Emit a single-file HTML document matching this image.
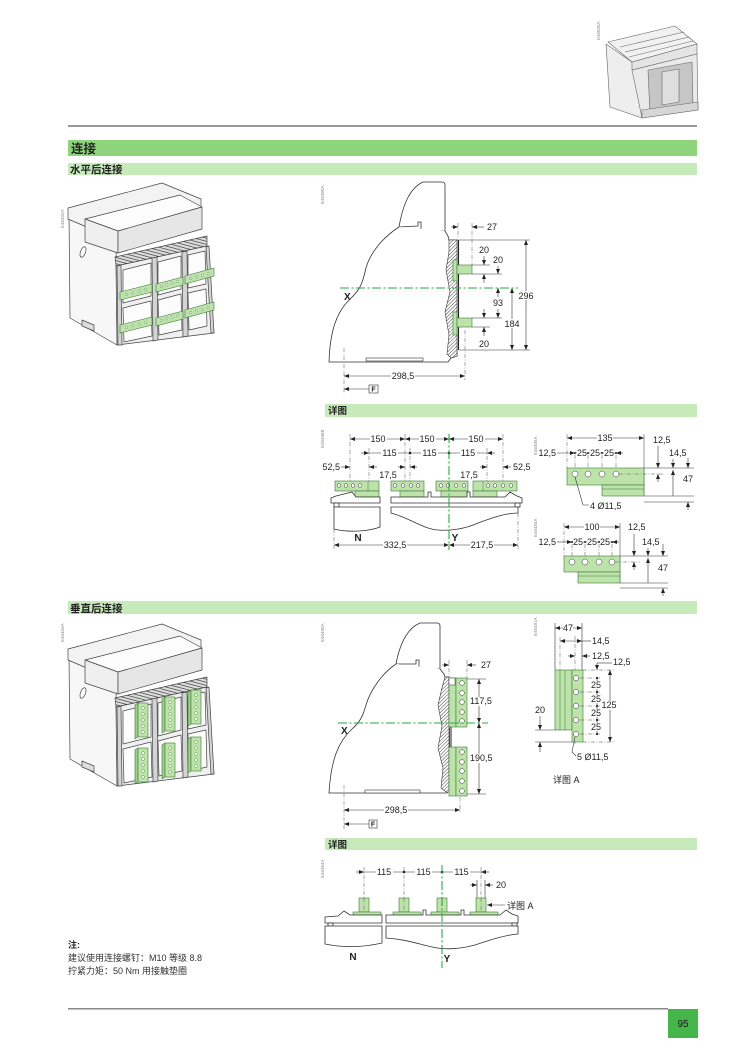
<!DOCTYPE html>
<html><head><meta charset="utf-8">
<style>
html,body{margin:0;padding:0;background:#fff;}
svg{display:block}
text{font-family:"Liberation Sans","Noto Sans CJK SC",sans-serif;font-size:9px;fill:#222}
.b{font-weight:bold}
.m{text-anchor:middle}
.n{text-anchor:end}
.d{stroke:#333;stroke-width:.6;fill:none}
.e{stroke:#555;stroke-width:.5;fill:none;stroke-dasharray:4 1.5 1 1.5}
.o{stroke:#333;stroke-width:.8;fill:#fff}
.g{fill:#bde3ab;stroke:#3a7a35;stroke-width:.6}
.ax{stroke:#2aa845;stroke-width:1.1;fill:none;stroke-dasharray:9 2.5 2 2.5}
.l{font-size:4.5px;fill:#888}
.w{fill:#fff}
.hl{fill:#fff;stroke:#333;stroke-width:.5}
.gh{fill:#fff;stroke:#3a7a35;stroke-width:.4}
</style></head><body>
<svg width="750" height="1056" viewBox="0 0 750 1056" xmlns="http://www.w3.org/2000/svg">
<defs>
<marker id="a" viewBox="0 0 10 8" refX="10" refY="4" markerUnits="userSpaceOnUse" markerWidth="5" markerHeight="4" orient="auto-start-reverse"><path d="M0,0L10,4L0,8z" fill="#222"/></marker>
<pattern id="h" width="2.5" height="2.5" patternUnits="userSpaceOnUse" patternTransform="rotate(45)"><rect width="2.5" height="2.5" fill="#fff"/><line x1="0" y1="0" x2="0" y2="2.5" stroke="#444" stroke-width="1"/></pattern>
<pattern id="gr" width="3" height="3" patternUnits="userSpaceOnUse" patternTransform="rotate(-75)"><rect width="3" height="3" fill="#ddd"/><line x1="0" y1="0" x2="0" y2="3" stroke="#222" stroke-width="1.2"/></pattern>
<g id="dev" stroke="#444" stroke-width=".7" stroke-linejoin="round">
<polygon points="69,215 116,243 117,345 70,318" fill="#f7f7f7"/>
<polygon points="68,208 162,183 201,199 201,213 110,237 68,219" fill="#f3f3f3"/>
<polygon points="85,219 180,195 202,207 118,231" fill="#fcfcfc"/>
<polygon points="85,219 118,231 118,253 85,242" fill="#efefef"/>
<polygon points="118,231 202,207 202,229 118,253" fill="#e6e6e6"/>
<polygon points="115,257 207,236 207,246 116,266" fill="url(#gr)"/>
<polygon points="116,266 207,246 214,333 117,345" fill="#f0f0f0"/>
<polygon points="123,270 151,263 151,296 123,303" fill="#fcfcfc"/>
<polygon points="158,262 181,256 181,289 158,295" fill="#fcfcfc"/>
<polygon points="188,255 205,251 206,284 188,288" fill="#fcfcfc"/>
<polygon points="123,308 151,301 152,336 124,342" fill="#fcfcfc"/>
<polygon points="158,300 181,294 182,330 159,335" fill="#fcfcfc"/>
<polygon points="188,293 206,289 207,326 189,330" fill="#fcfcfc"/>
<polygon points="117,266 121,265 122,345 118,345" fill="#d4d4d4"/>
<polygon points="152,258 157,257 158,340 153,341" fill="#d4d4d4"/>
<polygon points="182,252 187,251 188,336 183,337" fill="#d4d4d4"/>
<polygon points="206,247 209,246 214,333 211,333" fill="#d4d4d4"/>
<ellipse cx="83" cy="252" rx="2.5" ry="5.5" transform="rotate(20 83 252)" fill="#fff"/>
<polygon points="82,320 94,325 94,331 82,326" fill="#ddd"/>
</g>
</defs>

<!-- HEADER DEVICE -->
<g stroke="#666" stroke-width=".6" stroke-linejoin="round">
<polygon points="606,44 632,62 642,118 610,107" fill="#eeeeee"/>
<polygon points="608,42 675,26 697,44 632,62" fill="#f1f1f1"/>
<polygon points="632,62 697,44 697,54 632,70" fill="#e4e4e4"/>
<polygon points="632,70 697,54 698,110 642,118" fill="#e9e9e9"/>
<polygon points="648,70 692,62 693,108 650,114" fill="#c6c6c6"/>
<polygon points="662,72 679,69 679,102 662,105" fill="#dedede"/>
<polygon points="642,110 698,102 698,110 642,118" fill="#d6d6d6"/>
<line x1="620" y1="47" x2="684" y2="32"/><line x1="625" y1="52" x2="689" y2="37"/><line x1="629" y1="57" x2="693" y2="41"/>
</g>
<text class="l" transform="translate(600,40) rotate(-90)">E46035A</text>

<rect x="68" y="125" width="629" height="2" fill="#9a9a9a"/>
<rect x="68" y="140" width="629" height="16" fill="#8ed47d"/>
<text x="71" y="153" class="b" style="font-size:12.5px">连接</text>
<rect x="68" y="163" width="629" height="12" fill="#c7eaba"/>
<text x="70" y="173" class="b" style="font-size:10.5px">水平后连接</text>

<!-- SECTION 1 DEVICE -->
<text class="l" transform="translate(64,228) rotate(-90)">E46402A</text>
<use href="#dev"/>
<g class="g">
<polygon points="120,292 152,284 152,292 120,300"/>
<polygon points="156,284 183,277 183,285 156,292"/>
<polygon points="185,276 214,268 214,276 185,284"/>
<polygon points="120,325 152,317 152,325 120,333"/>
<polygon points="156,318 183,311 183,319 156,326"/>
<polygon points="185,310 214,302 214,310 185,318"/>
</g>
<g class="gh">
<circle cx="126.4" cy="294.4" r="1.2"/><circle cx="132.8" cy="292.8" r="1.2"/><circle cx="139.2" cy="291.2" r="1.2"/><circle cx="145.6" cy="289.6" r="1.2"/>
<circle cx="161.4" cy="286.4" r="1.2"/><circle cx="166.8" cy="284.8" r="1.2"/><circle cx="172.2" cy="283.2" r="1.2"/><circle cx="177.6" cy="281.6" r="1.2"/>
<circle cx="190.8" cy="278.4" r="1.2"/><circle cx="196.6" cy="276.8" r="1.2"/><circle cx="202.4" cy="275.2" r="1.2"/><circle cx="208.2" cy="273.6" r="1.2"/>
<circle cx="126.4" cy="327.4" r="1.2"/><circle cx="132.8" cy="325.8" r="1.2"/><circle cx="139.2" cy="324.2" r="1.2"/><circle cx="145.6" cy="322.6" r="1.2"/>
<circle cx="161.4" cy="320.4" r="1.2"/><circle cx="166.8" cy="318.8" r="1.2"/><circle cx="172.2" cy="317.2" r="1.2"/><circle cx="177.6" cy="315.6" r="1.2"/>
<circle cx="190.8" cy="312.4" r="1.2"/><circle cx="196.6" cy="310.8" r="1.2"/><circle cx="202.4" cy="309.2" r="1.2"/><circle cx="208.2" cy="307.6" r="1.2"/>
</g>

<!-- SECTION 1 SIDE VIEW -->
<text class="l" transform="translate(324,204) rotate(-90)">E46380A</text>
<path class="o" d="M399,227 C403,204 410,188 423,182 L442,182 Q445,182 445,185 L445,231 L421,231 L421,222 L418,222 L418,226 Z"/>
<path class="o" d="M399,227 C385,236 369,252 365,272 C362,285 359,291 349,300 C336,313 330,332 329,362 L448,362 L451,358 L457,356 L457,240 L449,240 L448,236 L445,231" />
<path d="M449,240 L457,240 L457,356 L451,358 L447,354 L449,335 L445,312 L450,292 L446,270 L449,252Z" fill="url(#h)" stroke="#333" stroke-width=".6"/>
<rect x="366" y="358" width="57" height="3" fill="#fff" stroke="#333" stroke-width=".6"/>
<line x1="458.5" y1="240" x2="458.5" y2="350" stroke="#222" stroke-width="1.1"/>
<line class="d" x1="459" y1="240" x2="530" y2="240"/>
<line class="d" x1="459" y1="350" x2="530" y2="350"/>
<rect class="g" x="453" y="260" width="4" height="21"/>
<rect class="g" x="457" y="265" width="15" height="9"/>
<rect class="g" x="453" y="312" width="4" height="23"/>
<rect class="g" x="457" y="318" width="15" height="9"/>
<line class="d" x1="472" y1="265" x2="490" y2="265"/>
<line class="d" x1="472" y1="274" x2="502" y2="274"/>
<line class="d" x1="472" y1="318" x2="502" y2="318"/>
<line class="d" x1="472" y1="327" x2="490" y2="327"/>
<line class="e" x1="458" y1="223" x2="458" y2="240"/>
<line class="e" x1="472" y1="223" x2="472" y2="265"/>
<line class="d" x1="451" y1="227" x2="458" y2="227" marker-end="url(#a)"/>
<line class="d" x1="484" y1="227" x2="472" y2="227" marker-end="url(#a)"/>
<text x="487" y="230">27</text>
<line class="d" x1="484" y1="256" x2="484" y2="265" marker-end="url(#a)"/>
<line class="d" x1="484" y1="283" x2="484" y2="274" marker-end="url(#a)"/>
<text class="m" x="484" y="253">20</text>
<text class="m" x="498" y="263">20</text>
<line class="d" x1="498" y1="266" x2="498" y2="274" marker-end="url(#a)"/>
<line class="d" x1="498" y1="297" x2="498" y2="288" marker-end="url(#a)"/>
<text class="m" x="498" y="306">93</text>
<line class="d" x1="498" y1="309" x2="498" y2="318" marker-end="url(#a)"/>
<line class="d" x1="484" y1="309" x2="484" y2="318" marker-end="url(#a)"/>
<line class="d" x1="484" y1="336" x2="484" y2="327" marker-end="url(#a)"/>
<text class="m" x="484" y="347">20</text>
<line class="d" x1="512" y1="288" x2="512" y2="350" marker-start="url(#a)" marker-end="url(#a)"/>
<rect class="w" x="504" y="319" width="16" height="9"/>
<text class="m" x="512" y="327">184</text>
<line class="d" x1="526" y1="240" x2="526" y2="350" marker-start="url(#a)" marker-end="url(#a)"/>
<rect class="w" x="518" y="291" width="16" height="9"/>
<text class="m" x="526" y="299">296</text>
<line class="ax" x1="340" y1="288" x2="518" y2="288"/>
<text class="b" x="344" y="300" style="font-size:10px">X</text>
<line class="e" x1="344" y1="348" x2="344" y2="394"/>
<line class="e" x1="465" y1="330" x2="465" y2="380"/>
<line class="d" x1="344" y1="376" x2="465" y2="376" marker-start="url(#a)" marker-end="url(#a)"/>
<rect class="w" x="391" y="372" width="24" height="9"/>
<text class="m" x="403" y="379">298,5</text>
<line class="d" x1="369" y1="389" x2="344" y2="389" marker-end="url(#a)"/>
<rect x="369" y="385" width="9" height="8" fill="#fff" stroke="#333" stroke-width=".6"/>
<text class="m b" x="373.5" y="391.5" style="font-size:7px">F</text>

<!-- DETAIL 1 -->
<rect x="325" y="404" width="372" height="13" fill="#c7eaba"/>
<text class="b" x="328" y="414" style="font-size:9.5px">详图</text>
<text class="l" transform="translate(324,448) rotate(-90)">E46406B</text>
<line class="e" x1="350" y1="434" x2="350" y2="481"/>
<line class="e" x1="405" y1="434" x2="405" y2="481"/>
<line class="e" x1="503" y1="434" x2="503" y2="481"/>
<line class="e" x1="369" y1="448" x2="369" y2="482"/>
<line class="e" x1="410" y1="448" x2="410" y2="482"/>
<line class="e" x1="487" y1="448" x2="487" y2="482"/>
<line class="d" x1="350" y1="439" x2="405" y2="439" marker-start="url(#a)" marker-end="url(#a)"/>
<line class="d" x1="405" y1="439" x2="449" y2="439" marker-start="url(#a)" marker-end="url(#a)"/>
<line class="d" x1="449" y1="439" x2="503" y2="439" marker-start="url(#a)" marker-end="url(#a)"/>
<rect class="w" x="370" y="435" width="17" height="9"/><text class="m" x="378" y="442">150</text>
<rect class="w" x="419" y="435" width="17" height="9"/><text class="m" x="427" y="442">150</text>
<rect class="w" x="468" y="435" width="17" height="9"/><text class="m" x="476" y="442">150</text>
<line class="d" x1="361" y1="453" x2="369" y2="453" marker-end="url(#a)"/>
<line class="d" x1="369" y1="453" x2="487" y2="453"/>
<line class="d" x1="495" y1="453" x2="487" y2="453" marker-end="url(#a)"/>
<rect class="w" x="381" y="449" width="17" height="9"/><text class="m" x="389.5" y="456">115</text>
<rect class="w" x="421" y="449" width="17" height="9"/><text class="m" x="429.5" y="456">115</text>
<rect class="w" x="460" y="449" width="17" height="9"/><text class="m" x="468" y="456">115</text>
<circle cx="410" cy="453" r="1.3" fill="#222"/><circle cx="449" cy="453" r="1.3" fill="#222"/>
<text class="n" x="340" y="470">52,5</text>
<line class="d" x1="341" y1="467" x2="350" y2="467" marker-end="url(#a)"/>
<line class="d" x1="377" y1="467" x2="369" y2="467" marker-end="url(#a)"/>
<line class="d" x1="480" y1="467" x2="487" y2="467" marker-end="url(#a)"/>
<line class="d" x1="511" y1="467" x2="503" y2="467" marker-end="url(#a)"/>
<text x="513" y="470">52,5</text>
<line class="d" x1="398" y1="467" x2="405" y2="467" marker-end="url(#a)"/>
<line class="d" x1="417" y1="467" x2="410" y2="467" marker-end="url(#a)"/>
<text class="m" x="388" y="478">17,5</text>
<text class="m" x="469" y="478">17,5</text>
<rect class="g" x="335" y="481" width="44" height="10"/><rect class="g" x="355" y="491" width="24" height="6"/>
<line x1="368" y1="481" x2="368" y2="491" stroke="#3a7a35" stroke-width=".5"/>
<rect class="g" x="391" y="481" width="33" height="10"/><rect class="g" x="400" y="491" width="24" height="6"/>
<rect class="g" x="436" y="481" width="32" height="10"/><rect class="g" x="441" y="491" width="27" height="6"/>
<rect class="g" x="473" y="481" width="44" height="10"/><rect class="g" x="473" y="491" width="24" height="6"/>
<line x1="483" y1="481" x2="483" y2="491" stroke="#3a7a35" stroke-width=".5"/>
<g class="hl">
<circle cx="339" cy="485.5" r="1.8"/><circle cx="346" cy="485.5" r="1.8"/><circle cx="353" cy="485.5" r="1.8"/><circle cx="360" cy="485.5" r="1.8"/>
<circle cx="395" cy="485.5" r="1.8"/><circle cx="403" cy="485.5" r="1.8"/><circle cx="411" cy="485.5" r="1.8"/><circle cx="418" cy="485.5" r="1.8"/>
<circle cx="441" cy="485.5" r="1.8"/><circle cx="448" cy="485.5" r="1.8"/><circle cx="456" cy="485.5" r="1.8"/><circle cx="464" cy="485.5" r="1.8"/>
<circle cx="488" cy="485.5" r="1.8"/><circle cx="495" cy="485.5" r="1.8"/><circle cx="503" cy="485.5" r="1.8"/><circle cx="511" cy="485.5" r="1.8"/>
</g>
<path class="o" d="M331,503 L331,498 L336,496 L352,492 L356,497 L380,497 L380,503 Z"/>
<path class="o" d="M391,497 L428,497 L428,492 L431,492 L431,497 L467,497 L467,492 L470,492 L470,497 L505,497 L510,492 L517,496 L522,498 L522,503 L391,503 Z"/>
<rect class="o" x="334" y="503" width="5" height="4"/><rect class="o" x="515" y="503" width="5" height="4"/>
<path class="o" d="M334,507 L380,507 L380,527 C370,531 350,533 334,529 Z"/>
<path class="o" d="M391,507 L518,507 L518,513 C505,513 492,518 478,523 C465,529 450,531 438,530 C423,529 410,518 391,513 Z"/>
<text class="b m" x="358" y="541" style="font-size:10px">N</text>
<text class="b m" x="455" y="541" style="font-size:10px">Y</text>
<line class="e" x1="334" y1="529" x2="334" y2="549"/>
<line class="e" x1="518" y1="513" x2="518" y2="549"/>
<line class="d" x1="334" y1="545" x2="449" y2="545" marker-start="url(#a)" marker-end="url(#a)"/>
<line class="d" x1="449" y1="545" x2="518" y2="545" marker-start="url(#a)" marker-end="url(#a)"/>
<rect class="w" x="383" y="541" width="24" height="9"/><text class="m" x="395" y="548">332,5</text>
<rect class="w" x="470" y="541" width="24" height="9"/><text class="m" x="482" y="548">217,5</text>
<line class="ax" x1="449" y1="434" x2="449" y2="550"/>

<!-- RIGHT SMALL DRAWINGS -->
<text class="l" transform="translate(537,455) rotate(-90)">E46405A</text>
<line class="e" x1="567" y1="434" x2="567" y2="468"/>
<line x1="644" y1="434" x2="644" y2="496" stroke="#333" stroke-width=".5"/>
<line class="d" x1="567" y1="438" x2="644" y2="438" marker-start="url(#a)" marker-end="url(#a)"/>
<rect class="w" x="597" y="434" width="16" height="9"/><text class="m" x="605" y="441">135</text>
<text class="n" x="556" y="456">12,5</text>
<line class="d" x1="557" y1="453" x2="575" y2="453" marker-end="url(#a)"/>
<line class="d" x1="575" y1="453" x2="616" y2="453"/>
<line class="d" x1="623" y1="453" x2="616" y2="453" marker-end="url(#a)"/>
<rect class="w" x="577" y="449" width="10" height="8"/><text class="m" x="582" y="456">25</text>
<rect class="w" x="590" y="449" width="10" height="8"/><text class="m" x="595" y="456">25</text>
<rect class="w" x="604" y="449" width="10" height="8"/><text class="m" x="609" y="456">25</text>
<g fill="#222"><circle cx="575" cy="453" r="1"/><circle cx="588" cy="453" r="1"/><circle cx="602" cy="453" r="1"/><circle cx="616" cy="453" r="1"/></g>
<line class="e" x1="575" y1="455" x2="575" y2="468"/><line class="e" x1="588" y1="455" x2="588" y2="468"/><line class="e" x1="602" y1="455" x2="602" y2="468"/><line class="e" x1="616" y1="455" x2="616" y2="468"/>
<rect class="g" x="567" y="468" width="77" height="17"/>
<rect class="g" x="602" y="485" width="42" height="11"/>
<line x1="602" y1="489" x2="644" y2="489" stroke="#3a7a35" stroke-width=".5"/>
<g class="hl"><circle cx="575" cy="474" r="3"/><circle cx="588" cy="474" r="3"/><circle cx="602" cy="474" r="3"/><circle cx="616" cy="474" r="3"/></g>
<line class="e" x1="619" y1="474" x2="664" y2="474"/>
<line class="d" x1="644" y1="468" x2="694" y2="468"/>
<line class="d" x1="644" y1="496" x2="694" y2="496"/>
<line class="d" x1="644" y1="502" x2="694" y2="502"/>
<text x="653" y="443">12,5</text>
<line class="d" x1="658" y1="446" x2="658" y2="468" marker-end="url(#a)"/>
<line class="d" x1="658" y1="482" x2="658" y2="474" marker-end="url(#a)"/>
<text x="669" y="456">14,5</text>
<line class="d" x1="673" y1="459" x2="673" y2="468" marker-end="url(#a)"/>
<line class="d" x1="673" y1="496" x2="673" y2="470" marker-end="url(#a)"/>
<line class="d" x1="688" y1="458" x2="688" y2="468" marker-end="url(#a)"/>
<text class="m" x="688" y="482">47</text>
<line class="d" x1="688" y1="510" x2="688" y2="502" marker-end="url(#a)"/>
<path class="d" d="M575,477 L583,505 L589,505"/>
<text x="590" y="509">4 Ø11,5</text>

<text class="l" transform="translate(537,537) rotate(-90)">E46455A</text>
<line class="e" x1="564" y1="523" x2="564" y2="556"/>
<line x1="620" y1="523" x2="620" y2="583" stroke="#333" stroke-width=".5"/>
<line class="d" x1="564" y1="527" x2="620" y2="527" marker-start="url(#a)" marker-end="url(#a)"/>
<rect class="w" x="584" y="523" width="16" height="9"/><text class="m" x="592" y="530">100</text>
<text class="n" x="556" y="545">12,5</text>
<line class="d" x1="557" y1="542" x2="572" y2="542" marker-end="url(#a)"/>
<line class="d" x1="572" y1="542" x2="612" y2="542"/>
<line class="d" x1="619" y1="542" x2="612" y2="542" marker-end="url(#a)"/>
<rect class="w" x="573" y="538" width="10" height="8"/><text class="m" x="578" y="545">25</text>
<rect class="w" x="587" y="538" width="10" height="8"/><text class="m" x="592" y="545">25</text>
<rect class="w" x="600" y="538" width="10" height="8"/><text class="m" x="605" y="545">25</text>
<g fill="#222"><circle cx="572" cy="542" r="1"/><circle cx="585" cy="542" r="1"/><circle cx="599" cy="542" r="1"/><circle cx="612" cy="542" r="1"/></g>
<line class="e" x1="572" y1="544" x2="572" y2="556"/><line class="e" x1="585" y1="544" x2="585" y2="556"/><line class="e" x1="599" y1="544" x2="599" y2="556"/><line class="e" x1="612" y1="544" x2="612" y2="556"/>
<rect class="g" x="564" y="556" width="56" height="16"/>
<rect class="g" x="578" y="572" width="42" height="11"/>
<line x1="578" y1="576" x2="620" y2="576" stroke="#3a7a35" stroke-width=".5"/>
<g class="hl"><circle cx="572" cy="562" r="3"/><circle cx="585" cy="562" r="3"/><circle cx="599" cy="562" r="3"/><circle cx="612" cy="562" r="3"/></g>
<line class="e" x1="615" y1="562" x2="640" y2="562"/>
<line class="d" x1="620" y1="556" x2="668" y2="556"/>
<line class="d" x1="620" y1="583" x2="668" y2="583"/>
<line class="d" x1="620" y1="588" x2="668" y2="588"/>
<text x="628" y="530">12,5</text>
<line class="d" x1="634" y1="534" x2="634" y2="556" marker-end="url(#a)"/>
<line class="d" x1="634" y1="570" x2="634" y2="562" marker-end="url(#a)"/>
<text x="642" y="545">14,5</text>
<line class="d" x1="648" y1="548" x2="648" y2="556" marker-end="url(#a)"/>
<line class="d" x1="648" y1="583" x2="648" y2="558" marker-end="url(#a)"/>
<line class="d" x1="663" y1="544" x2="663" y2="556" marker-end="url(#a)"/>
<text class="m" x="663" y="571">47</text>
<line class="d" x1="663" y1="596" x2="663" y2="588" marker-end="url(#a)"/>

<!-- SECTION 2 -->
<rect x="68" y="601" width="629" height="13" fill="#c7eaba"/>
<text x="70" y="612" class="b" style="font-size:10.5px">垂直后连接</text>

<text class="l" transform="translate(64,642) rotate(-90)">E46403A</text>
<use href="#dev" transform="translate(0,441)"/>
<g stroke="#3a7a35" stroke-width=".6">
<polygon points="135,705 138,703 138,737 135,739" fill="#9fd08c"/><rect x="138" y="703" width="10" height="34" fill="#bde3ab"/>
<polygon points="162,699 165,697 165,731 162,733" fill="#9fd08c"/><rect x="165" y="697" width="10" height="34" fill="#bde3ab"/>
<polygon points="188,692 191,690 191,724 188,726" fill="#9fd08c"/><rect x="191" y="690" width="10" height="34" fill="#bde3ab"/>
<polygon points="135,750 138,748 138,782 135,784" fill="#9fd08c"/><rect x="138" y="748" width="10" height="34" fill="#bde3ab"/>
<polygon points="162,745 165,743 165,777 162,779" fill="#9fd08c"/><rect x="165" y="743" width="10" height="34" fill="#bde3ab"/>
<polygon points="188,739 191,737 191,771 188,773" fill="#9fd08c"/><rect x="191" y="737" width="10" height="34" fill="#bde3ab"/>
</g>
<g class="gh">
<circle cx="143" cy="708" r="1.4"/><circle cx="143" cy="714" r="1.4"/><circle cx="143" cy="720" r="1.4"/><circle cx="143" cy="726" r="1.4"/><circle cx="143" cy="732" r="1.4"/>
<circle cx="170" cy="702" r="1.4"/><circle cx="170" cy="708" r="1.4"/><circle cx="170" cy="714" r="1.4"/><circle cx="170" cy="720" r="1.4"/><circle cx="170" cy="726" r="1.4"/>
<circle cx="196" cy="695" r="1.4"/><circle cx="196" cy="701" r="1.4"/><circle cx="196" cy="707" r="1.4"/><circle cx="196" cy="713" r="1.4"/><circle cx="196" cy="719" r="1.4"/>
<circle cx="143" cy="753" r="1.4"/><circle cx="143" cy="759" r="1.4"/><circle cx="143" cy="765" r="1.4"/><circle cx="143" cy="771" r="1.4"/><circle cx="143" cy="777" r="1.4"/>
<circle cx="170" cy="748" r="1.4"/><circle cx="170" cy="754" r="1.4"/><circle cx="170" cy="760" r="1.4"/><circle cx="170" cy="766" r="1.4"/><circle cx="170" cy="772" r="1.4"/>
<circle cx="196" cy="742" r="1.4"/><circle cx="196" cy="748" r="1.4"/><circle cx="196" cy="754" r="1.4"/><circle cx="196" cy="760" r="1.4"/><circle cx="196" cy="766" r="1.4"/>
</g>

<!-- SECTION 2 SIDE VIEW -->
<text class="l" transform="translate(324,642) rotate(-90)">E46490A</text>
<path class="o" d="M396,664 C400,643 408,628 420,623 L437,623 Q440,623 440,626 L440,669 L419,669 L419,660 L416,660 L416,664 Z"/>
<path class="o" d="M396,664 C384,672 371,688 366,705 C363,716 360,722 352,729 C338,742 331,760 329,793 L447,793 L450,789 L449,677 L445,677 L444,674 L440,669"/>
<path d="M445,677 L449,677 L449,792 L446,792 L441,788 L443,768 L438,748 L442,726 L438,705 L442,688Z" fill="url(#h)" stroke="#333" stroke-width=".6"/>
<rect x="365" y="790" width="55" height="3" fill="#fff" stroke="#333" stroke-width=".6"/>
<line x1="451" y1="727" x2="451" y2="747" stroke="#222" stroke-width="1"/>
<rect class="g" x="449" y="678" width="7" height="49"/>
<rect x="449" y="678" width="6" height="7" fill="#fff" stroke="#333" stroke-width=".5"/>
<rect class="g" x="456" y="678" width="11" height="49"/>
<rect class="g" x="449" y="747" width="7" height="49"/>
<rect class="g" x="456" y="747" width="11" height="49"/>
<g class="hl">
<circle cx="462" cy="683" r="2.4"/><circle cx="462" cy="693" r="2.4"/><circle cx="462" cy="702" r="2.4"/><circle cx="462" cy="712" r="2.4"/><circle cx="462" cy="721" r="2.4"/>
<circle cx="462" cy="752" r="2.4"/><circle cx="462" cy="762" r="2.4"/><circle cx="462" cy="771" r="2.4"/><circle cx="462" cy="781" r="2.4"/><circle cx="462" cy="791" r="2.4"/>
</g>
<line class="e" x1="449" y1="660" x2="449" y2="678"/>
<line class="e" x1="467" y1="660" x2="467" y2="678"/>
<line class="d" x1="442" y1="665" x2="449" y2="665" marker-end="url(#a)"/>
<line class="d" x1="476" y1="665" x2="467" y2="665" marker-end="url(#a)"/>
<text x="481" y="668">27</text>
<line class="d" x1="467" y1="679" x2="486" y2="679"/>
<line class="d" x1="467" y1="794" x2="486" y2="794"/>
<line class="d" x1="479" y1="679" x2="479" y2="723" marker-start="url(#a)" marker-end="url(#a)"/>
<line class="d" x1="479" y1="723" x2="479" y2="794" marker-start="url(#a)" marker-end="url(#a)"/>
<rect class="w" x="469" y="697" width="24" height="9"/><text x="470" y="704">117,5</text>
<rect class="w" x="469" y="754" width="24" height="9"/><text x="470" y="761">190,5</text>
<line class="ax" x1="338" y1="723" x2="488" y2="723"/>
<text class="b" x="341" y="734" style="font-size:10px">X</text>
<line class="e" x1="344" y1="785" x2="344" y2="829"/>
<line class="e" x1="460" y1="797" x2="460" y2="813"/>
<line class="d" x1="344" y1="810" x2="460" y2="810" marker-start="url(#a)" marker-end="url(#a)"/>
<rect class="w" x="384" y="806" width="24" height="9"/>
<text class="m" x="396" y="813">298,5</text>
<line class="d" x1="369" y1="824" x2="344" y2="824" marker-end="url(#a)"/>
<rect x="369" y="820" width="8" height="8" fill="#fff" stroke="#333" stroke-width=".6"/>
<text class="m b" x="373" y="826.5" style="font-size:7px">F</text>

<!-- DETAIL A -->
<text class="l" transform="translate(537,636) rotate(-90)">E46491A</text>
<line class="d" x1="555" y1="623" x2="555" y2="670"/>
<line class="d" x1="582" y1="623" x2="582" y2="670"/>
<line class="e" x1="560" y1="637" x2="560" y2="670"/>
<line class="d" x1="555" y1="628" x2="582" y2="628" marker-start="url(#a)" marker-end="url(#a)"/>
<rect class="w" x="563" y="624" width="10" height="8"/><text class="m" x="568" y="631">47</text>
<line class="d" x1="560" y1="641" x2="582" y2="641" marker-start="url(#a)" marker-end="url(#a)"/>
<line class="d" x1="582" y1="641" x2="591" y2="641"/>
<text x="592" y="644">14,5</text>
<line class="e" x1="575" y1="636" x2="575" y2="745"/>
<line class="d" x1="568" y1="656" x2="575" y2="656" marker-end="url(#a)"/>
<line class="d" x1="590" y1="656" x2="582" y2="656" marker-end="url(#a)"/>
<text x="592" y="659">12,5</text>
<path class="d" d="M612,663 L597,663"/>
<line class="d" x1="597" y1="663" x2="597" y2="670" marker-end="url(#a)"/>
<text x="613" y="665">12,5</text>
<rect class="g" x="555" y="670" width="17" height="60"/>
<line x1="560" y1="670" x2="560" y2="730" stroke="#3a7a35" stroke-width=".5"/>
<line x1="565" y1="670" x2="565" y2="730" stroke="#3a7a35" stroke-width=".5"/>
<rect class="g" x="572" y="670" width="11" height="72"/>
<g class="hl"><circle cx="576" cy="678" r="2.6"/><circle cx="576" cy="692" r="2.6"/><circle cx="576" cy="706" r="2.6"/><circle cx="576" cy="720" r="2.6"/><circle cx="576" cy="734" r="2.6"/></g>
<g class="e"><line x1="580" y1="678" x2="600" y2="678"/><line x1="580" y1="692" x2="600" y2="692"/><line x1="580" y1="706" x2="600" y2="706"/><line x1="580" y1="720" x2="600" y2="720"/><line x1="580" y1="734" x2="600" y2="734"/></g>
<line class="d" x1="597" y1="678" x2="597" y2="734"/>
<g fill="#222"><circle cx="597" cy="678" r="1.1"/><circle cx="597" cy="692" r="1.1"/><circle cx="597" cy="706" r="1.1"/><circle cx="597" cy="720" r="1.1"/><circle cx="597" cy="734" r="1.1"/></g>
<rect class="w" x="591" y="681" width="11" height="8"/><text class="m" x="596" y="688">25</text>
<rect class="w" x="591" y="695" width="11" height="8"/><text class="m" x="596" y="702">25</text>
<rect class="w" x="591" y="709" width="11" height="8"/><text class="m" x="596" y="716">25</text>
<rect class="w" x="591" y="723" width="11" height="8"/><text class="m" x="596" y="730">25</text>
<line class="e" x1="583" y1="670" x2="615" y2="670"/>
<line class="e" x1="583" y1="742" x2="615" y2="742"/>
<line class="d" x1="610" y1="670" x2="610" y2="742" marker-start="url(#a)" marker-end="url(#a)"/>
<rect class="w" x="601" y="701" width="16" height="9"/><text class="m" x="609" y="708">125</text>
<line class="d" x1="535" y1="730" x2="555" y2="730"/>
<line class="d" x1="535" y1="742" x2="572" y2="742"/>
<text class="m" x="540" y="713">20</text>
<line class="d" x1="540" y1="716" x2="540" y2="730" marker-end="url(#a)"/>
<line class="d" x1="540" y1="752" x2="540" y2="742" marker-end="url(#a)"/>
<path class="d" d="M575,737 L572,752 L576,756"/>
<text x="577" y="760">5 Ø11,5</text>
<text x="553" y="783">详图 A</text>

<!-- DETAIL 2 -->
<rect x="325" y="838" width="372" height="12" fill="#c7eaba"/>
<text class="b" x="328" y="848" style="font-size:9.5px">详图</text>
<text class="l" transform="translate(324,878) rotate(-90)">E46364A</text>
<line class="e" x1="364" y1="867" x2="364" y2="898"/>
<line class="e" x1="404" y1="867" x2="404" y2="898"/>
<line class="e" x1="481" y1="867" x2="481" y2="898"/>
<line class="d" x1="356" y1="872" x2="364" y2="872" marker-end="url(#a)"/>
<line class="d" x1="364" y1="872" x2="481" y2="872"/>
<line class="d" x1="489" y1="872" x2="481" y2="872" marker-end="url(#a)"/>
<rect class="w" x="376" y="868" width="17" height="9"/><text class="m" x="384" y="875">115</text>
<rect class="w" x="415" y="868" width="17" height="9"/><text class="m" x="423.5" y="875">115</text>
<rect class="w" x="453" y="868" width="17" height="9"/><text class="m" x="461.5" y="875">115</text>
<circle cx="404" cy="872" r="1.3" fill="#222"/><circle cx="442" cy="872" r="1.3" fill="#222"/>
<line class="d" x1="477" y1="880" x2="477" y2="898"/>
<line class="d" x1="485" y1="880" x2="485" y2="898"/>
<line class="d" x1="470" y1="885" x2="477" y2="885" marker-end="url(#a)"/>
<line class="d" x1="493" y1="885" x2="485" y2="885" marker-end="url(#a)"/>
<text x="496" y="888">20</text>
<g>
<rect class="g" x="359" y="898" width="10" height="14"/><rect class="g" x="353" y="912" width="28" height="3"/>
<rect class="g" x="399" y="898" width="10" height="14"/><rect class="g" x="393" y="912" width="28" height="3"/>
<rect class="g" x="437" y="898" width="10" height="14"/><rect class="g" x="431" y="912" width="28" height="3"/>
<rect class="g" x="476" y="898" width="10" height="14"/><rect class="g" x="470" y="912" width="28" height="3"/>
</g>
<g class="e"><line x1="364" y1="898" x2="364" y2="912"/><line x1="404" y1="898" x2="404" y2="912"/><line x1="481" y1="898" x2="481" y2="912"/></g>
<line class="d" x1="505" y1="905" x2="487" y2="905" marker-end="url(#a)"/>
<text x="507" y="909">详图 A</text>
<path class="o" d="M325,923 L325,917 L338,916 L344,911 L350,915 L382,915 L382,923 Z"/>
<path class="o" d="M386,915 L423,915 L423,910 L426,910 L426,915 L461,915 L461,910 L464,910 L464,915 L500,915 L506,910 L512,914 L518,916 L518,923 L386,923 Z"/>
<rect class="o" x="328" y="923" width="5" height="3"/><rect class="o" x="512" y="923" width="5" height="3"/>
<path class="o" d="M325,926 L382,926 L382,943 C365,947 345,948 325,944 Z"/>
<path class="o" d="M386,926 L518,926 L518,934 C505,935 490,940 475,945 C460,949 445,950 432,947 C418,944 405,939 386,938 Z"/>
<text class="b m" x="353" y="960" style="font-size:10px">N</text>
<text class="b m" x="447" y="962" style="font-size:10px">Y</text>
<line class="ax" x1="442" y1="865" x2="442" y2="968"/>

<!-- NOTES -->
<text class="b" x="68" y="948" style="font-size:9px">注:</text>
<text x="68" y="961" style="font-size:9px;fill:#333">建议使用连接螺钉：M10 等级 8.8</text>
<text x="68" y="974" style="font-size:9px;fill:#333">拧紧力矩：50 Nm 用接触垫圈</text>

<!-- FOOTER -->
<rect x="68" y="1008" width="600" height="1.5" fill="#888"/>
<rect x="668" y="1009" width="30" height="29" fill="#45b649"/>
<text class="m" x="683" y="1027" style="font-size:10px;fill:#1a1a1a">95</text>
</svg>
</body></html>
